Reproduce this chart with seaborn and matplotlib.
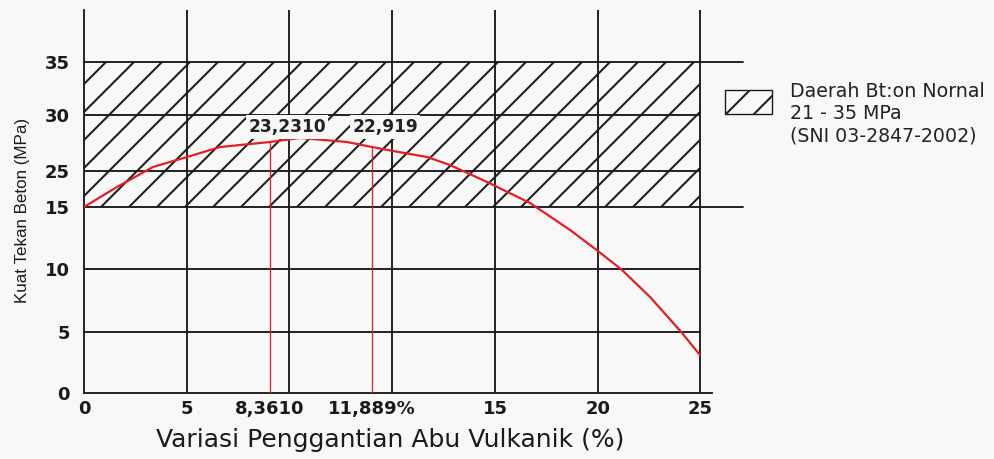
import numpy as np
import matplotlib
matplotlib.use("Agg")
import matplotlib.pyplot as plt
from matplotlib.patches import Patch, Rectangle
from matplotlib.legend_handler import HandlerPatch
import seaborn as sns

# values (replacement % vs compressive strength MPa)
curve_x = [0, 1.60, 3.35, 5, 6.34, 8.361, 9.40, 11.02, 11.889, 12.42, 13.28,
           13.86, 14.80, 16.70, 18.64, 20, 21.18, 22.55, 24.12, 25]
curve_y = [15, 20.56, 25.36, 26.25, 27.14, 27.59, 27.95, 27.59, 27.14, 26.79, 26.25,
           25.54, 21.94, 16.11, 13.15, 11.45, 9.92, 7.78, 4.92, 3.11]
x_tick_values = [0, 5, 8.361, 11.889, 15, 20, 25]
x_tick_labels = ["0", "5", "8,3610", "11,889%", "15", "20", "25"]
y_tick_values = [0, 5, 10, 15, 25, 30, 35]
y_tick_labels = ["0", "5", "10", "15", "25", "30", "35"]
marked_x = [8.361, 11.889]
marked_labels = ["23,2310", "22,919"]
normal_band = [15, 35]
legend_label = "Daerah Bt:on Nornal\n21 - 35 MPa\n(SNI 03-2847-2002)"

# the original drawing has uneven spacing on both axes -> piecewise scales
X_SCALE_VAL = [0, 5, 8.361, 11.889, 15, 20, 25, 30]
X_SCALE_POS = [0, 103, 186, 288, 411, 514, 616, 719]
Y_SCALE_VAL = [0, 5, 10, 15, 25, 30, 35, 45]
Y_SCALE_POS = [0, 61, 124, 186, 222, 278, 331, 437]
X_GRID_POS = [103, 205, 308, 411, 514, 616]

DPI = 168
PT = 72 / DPI  # points per pixel
INK = "#1a1a1a"
RED = "#e41e26"
BG = "#f8f8f8"


def raised_box(legend, orig_handle, xdescent, ydescent, width, height, fontsize):
    # legend swatch sits level with the first text lines, not the middle
    return Rectangle((-xdescent, -ydescent + 13 * PT), width, height)


def main():
    sns.set_theme(style="white")
    plt.rcParams["font.family"] = ["DejaVu Sans"]
    plt.rcParams["hatch.linewidth"] = 0.85
    plt.rcParams["hatch.color"] = INK

    fig = plt.figure(figsize=(994 / DPI, 459 / DPI), dpi=DPI)
    fig.patch.set_facecolor(BG)
    ax = fig.add_axes([84 / 994, 1 - 393 / 459, (712 - 84) / 994, (393 - 10) / 459])
    ax.set_facecolor(BG)

    ax.set_xscale("function", functions=(lambda v: np.interp(v, X_SCALE_VAL, X_SCALE_POS),
                                         lambda p: np.interp(p, X_SCALE_POS, X_SCALE_VAL)))
    ax.set_yscale("function", functions=(lambda v: np.interp(v, Y_SCALE_VAL, Y_SCALE_POS),
                                         lambda p: np.interp(p, Y_SCALE_POS, Y_SCALE_VAL)))
    x_max = float(np.interp(628, X_SCALE_POS, X_SCALE_VAL))
    y_max = float(np.interp(383, Y_SCALE_POS, Y_SCALE_VAL))

    # hatched "normal concrete" band
    ax.fill_between([0, 25], normal_band[0], normal_band[1], facecolor="none",
                    edgecolor=INK, hatch="//", linewidth=0, zorder=1)

    # grid
    for gx in np.interp(X_GRID_POS, X_SCALE_POS, X_SCALE_VAL):
        ax.axvline(gx, color=INK, linewidth=0.8, zorder=2)
    ax.hlines([5, 10, 25, 30], 0, 25, color=INK, linewidth=0.8, zorder=2)
    for gy in normal_band:
        ax.axhline(gy, xmax=(743 - 84) / 628, color=INK, linewidth=0.8, zorder=2, clip_on=False)

    # strength curve
    sns.lineplot(x=curve_x, y=curve_y, ax=ax, color=RED, linewidth=0.95, zorder=4)

    marked_y = np.interp(marked_x, curve_x, curve_y)
    ax.vlines(marked_x, 0, marked_y, color=RED, linewidth=0.55, zorder=3)
    offsets = [(17, 15), (13, 20)]
    for mx, my, label, off in zip(marked_x, marked_y, marked_labels, offsets):
        ax.annotate(label, xy=(mx, my), xytext=off, textcoords="offset pixels",
                    ha="center", va="center", fontsize=17 * PT, fontweight="bold", color="#222222",
                    bbox=dict(boxstyle="square,pad=0.15", facecolor=BG, edgecolor="none"), zorder=5)

    ax.set_xlim(0, x_max)
    ax.set_ylim(0, y_max)
    ax.set_xticks(x_tick_values, x_tick_labels)
    ax.set_yticks(y_tick_values, y_tick_labels)
    ax.minorticks_off()
    ax.tick_params(axis="x", length=0, pad=2.8, labelsize=18 * PT, labelcolor=INK)
    ax.tick_params(axis="y", length=0, pad=6, labelsize=18 * PT, labelcolor=INK)
    for lab in ax.get_xticklabels() + ax.get_yticklabels():
        lab.set_fontweight("bold")

    for side in ["top", "right"]:
        ax.spines[side].set_visible(False)
    for side in ["left", "bottom"]:
        ax.spines[side].set_color(INK)
        ax.spines[side].set_linewidth(0.8)

    ax.set_xlabel("Variasi Penggantian Abu Vulkanik (%)", fontsize=25 * PT, va="center", color=INK)
    ax.xaxis.set_label_coords((390 - 84) / 628, (393 - 440) / 383)
    ax.set_ylabel("Kuat Tekan Beton (MPa)", fontsize=17 * PT, va="center", color=INK,
                  family="Liberation Sans")
    ax.yaxis.set_label_coords((23 - 84) / 628, (393 - 210) / 383)

    handle = Patch(facecolor="none", edgecolor=INK, hatch="//", linewidth=0.6)
    leg = ax.legend(handles=[handle], labels=[legend_label], loc="upper left",
                    bbox_to_anchor=(725 / 994, 1 - 82 / 459), bbox_transform=fig.transFigure,
                    frameon=False, borderpad=0, borderaxespad=0, fontsize=19 * PT,
                    handlelength=47 / 19, handleheight=30 / 19, handletextpad=18 / 19,
                    handler_map={Patch: HandlerPatch(patch_func=raised_box)})
    for t in leg.get_texts():
        t.set_color("#222222")

    fig.savefig("out.png", dpi=DPI, facecolor=fig.get_facecolor())
    plt.close(fig)


if __name__ == "__main__":
    main()
